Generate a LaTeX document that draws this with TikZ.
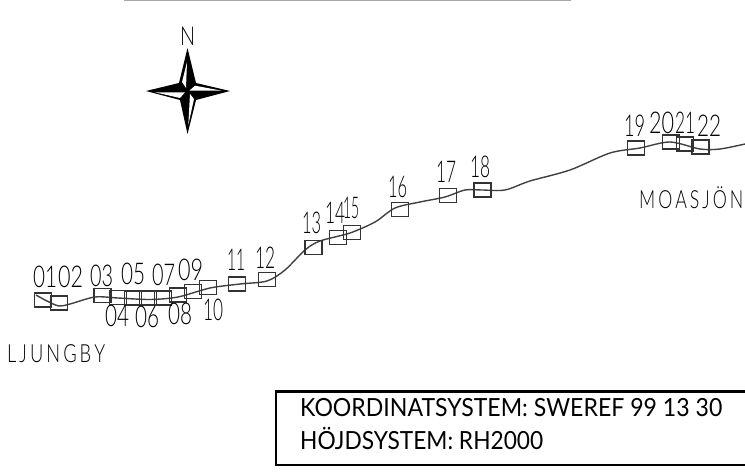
\documentclass[tikz,border=0pt]{standalone}
\usepackage{fontspec}
\usepackage{graphicx}
\setmainfont{Lato}[UprightFont=* Light]
\newfontfamily\boxfont{Lato}
\newcommand{\fitw}[2]{\resizebox{#1pt}{\height}{#2}}
\tikzset{
  stn/.style={draw=black!80,line width=1.2pt,minimum width=17pt,minimum height=14pt,inner sep=0pt,fill=none},
  lab/.style={anchor=base west,inner sep=0pt,text=black,font=\fontsize{30}{30}\selectfont},
  place/.style={anchor=base west,inner sep=0pt,text=black,font=\fontsize{25}{25}\selectfont},
  info/.style={anchor=base west,inner sep=0pt,text=black,font=\boxfont\fontsize{25}{25}\selectfont},
  route/.style={draw=black!75,line width=1.4pt,line join=round}
}
\begin{document}
\begin{tikzpicture}[x=1pt,y=-1pt]
\useasboundingbox (0,0) rectangle (745,474);
\draw[black!35,line width=1.5pt] (124,0.5) -- (571,0.5);
% route
\draw[route] plot[smooth,tension=0.5] coordinates {(36,295) (47,301) (59,306) (70,304) (95,297) (118,298) (150,299.5) (178,297) (210,288) (240,284) (267,281) (285,270) (305,250) (320,241) (350,233) (375,222) (395,208) (420,202) (445,197) (465,190) (482,190) (505,190) (530,181) (570,170) (610,153) (640,148) (670,142) (700,149) (720,149) (745,144)};
% stations
\foreach \n/\x/\y in {s01/43/300,s02/59/303,s03/102.5/295.5,s04/118/297.5,s05/133/298,s06/148/298,s07/163/298,s08/178/295,s09/193/291.5,s10/208/287.5,s11/237/284,s12/267/279.5,s13/313.5/247.5,s14/338/237.5,s15/352/232.5,s16/400/209.5,s17/448/195.5,s18/482.5/190,s19/636/148,s20/671/142,s21/685/144,s22/700.5/147}
  \node[stn] (\n) at (\x,\y) {};
% labels
\foreach \n/\x/\y/\w/\t in {a/33/287/24/01,b/58/287/25/02,c/90/286/23/03,d/105/326/24/04,e/121/284/24/05,f/135/327/24/06,g/152/285/23/07,h/168/324/24/08,i/178/280/25/09,j/203/320/20/10,k/227/270/18/11,l/255/268/20/12,m/302/233/19/13,o/325/223/20/14,p/343/218/16/15,q/388/197/19/16,r/436/182/20/17,s/470/177/20/18,t/624/136/21/19,u/649/133/25/20,v/675/133/20/21,w/697/136/24/22}
  \node[lab] (l\n) at (\x,\y) {\fitw{\w}{\t}};
\node[place] (ljungby) at (7,362) {\fitw{98}{L\,J\,U\,N\,G\,B\,Y}};
\node[place] (moasjon) at (639,208) {\fitw{104}{M\,O\,A\,S\,J\,Ö\,N}};
% compass
\node[anchor=base,inner sep=0pt,font=\fontsize{26}{26}\selectfont] (north) at (187.5,45) {\fitw{15}{N}};
\coordinate (nt) at (187.5,48); \coordinate (st) at (187.5,134);
\coordinate (wt) at (146,91); \coordinate (et) at (230,91);
\coordinate (nw) at (179,83); \coordinate (ne) at (196,83);
\coordinate (sw) at (180,100); \coordinate (se) at (196,100);
\fill[black] (nt) -- (ne) -- (et) -- (se) -- (st) -- (sw) -- (wt) -- (nw) -- cycle;
\fill[white] (187,62) -- (182,82) -- (186,88) -- cycle;
\fill[white] (195,85.7) -- (221.7,90.7) -- (189.3,90.7) -- cycle;
\fill[white] (155,92.3) -- (185,92.3) -- (180,98) -- cycle;
\fill[white] (190,94) -- (194,99) -- (188.3,125) -- cycle;
% info box
\draw[black,line width=2.4pt] (745,391.5) -- (276,391.5) -- (276,465) -- (745,465);
\node[info] (sys1) at (300,416) {\fitw{422}{KOORDINATSYSTEM: SWEREF 99 13 30}};
\node[info] (sys2) at (300,449) {\fitw{243}{HÖJDSYSTEM: RH2000}};
\end{tikzpicture}
\end{document}
